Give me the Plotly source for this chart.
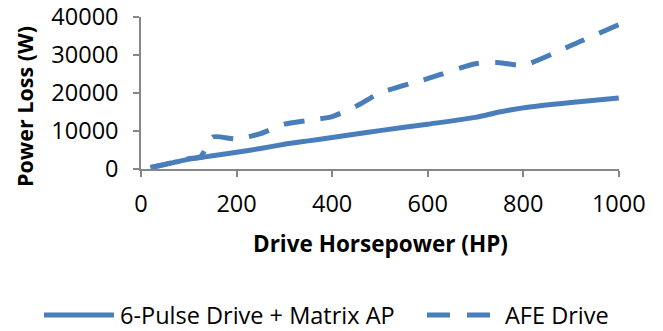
import plotly.graph_objects as go

# Drive ratings (HP) and measured power loss (W)
hp = [20, 50, 75, 100, 125, 150, 200, 250, 300, 350, 400, 450, 500, 600, 700, 750, 800, 900, 1000]
loss_6pulse_matrix = [400, 1200, 1900, 2600, 3000, 3500, 4400, 5400, 6500, 7400, 8300, 9200, 10100,
                      11800, 13600, 15000, 16100, 17500, 18700]
loss_afe = [400, 1200, 2000, 2700, 3300, 8400, 7900, 9300, 11800, 12800, 13800, 16500, 20000,
            23800, 27700, 28000, 27300, 32500, 38000]

series_names = ["6-Pulse Drive + Matrix AP", "AFE Drive"]
x_ticks = [0, 200, 400, 600, 800, 1000]
y_ticks = [0, 10000, 20000, 30000, 40000]

BLUE = "#4A7EBB"
AXIS = "#868686"
FONT = "Open Sans"
DASH = "21px,16px"

W, H = 663, 331
L, R, T, B = 141, 44, 17, 162
pw, ph = W - L - R, H - T - B


def px_x(p):
    return (p - L) / pw


def px_y(p):
    return (H - B - p) / ph


fig = go.Figure()
fig.add_trace(go.Scatter(x=hp, y=loss_6pulse_matrix, mode="lines", name=series_names[0],
                         line=dict(color=BLUE, width=5, shape="spline", smoothing=0.6),
                         showlegend=False))
fig.add_trace(go.Scatter(x=hp, y=loss_afe, mode="lines", name=series_names[1],
                         line=dict(color=BLUE, width=5, shape="spline", smoothing=0.6, dash=DASH),
                         showlegend=False))

axis_common = dict(showgrid=False, zeroline=False, showline=True, linecolor=AXIS, linewidth=1.5,
                   ticks="outside", ticklen=6, tickcolor=AXIS, tickwidth=1.5,
                   ticklabeloverflow="allow", automargin=False,
                   tickfont=dict(family=FONT, size=23.5, color="black"))
fig.update_xaxes(range=[0, 1000.5], tickvals=x_ticks, ticktext=[str(v) for v in x_ticks],
                 ticklabelstandoff=7, **axis_common)
fig.update_yaxes(range=[0, 40020], tickvals=y_ticks, ticktext=[str(v) for v in y_ticks],
                 ticklabelstandoff=10, **axis_common)

annotations = [
    dict(text="<b>Drive Horsepower (HP)</b>", x=px_x(380), y=px_y(243), xref="paper", yref="paper",
         showarrow=False, font=dict(family=FONT, size=22.5, color="black"), xanchor="center",
         yanchor="middle"),
    dict(text="<b>Power Loss (W)</b>", x=px_x(24), y=px_y(107), xref="paper", yref="paper",
         showarrow=False, textangle=-90, font=dict(family=FONT, size=21.5, color="black"),
         xanchor="center", yanchor="middle"),
    dict(text=series_names[0], x=px_x(118), y=px_y(315), xref="paper", yref="paper",
         showarrow=False, font=dict(family=FONT, size=23.5, color="black"), xanchor="left",
         yanchor="middle"),
    dict(text=series_names[1], x=px_x(503), y=px_y(315), xref="paper", yref="paper",
         showarrow=False, font=dict(family=FONT, size=23.5, color="black"), xanchor="left",
         yanchor="middle"),
]

shapes = [
    dict(type="line", xref="paper", yref="paper", x0=px_x(44), x1=px_x(114),
         y0=px_y(315), y1=px_y(315), line=dict(color=BLUE, width=5)),
    dict(type="line", xref="paper", yref="paper", x0=px_x(427), x1=px_x(490),
         y0=px_y(315), y1=px_y(315), line=dict(color=BLUE, width=5, dash="23px,17px")),
]

fig.update_layout(width=W, height=H, margin=dict(l=L, r=R, t=T, b=B, autoexpand=False),
                  plot_bgcolor="white", paper_bgcolor="white",
                  annotations=annotations, shapes=shapes)

fig.write_html("out.html")
